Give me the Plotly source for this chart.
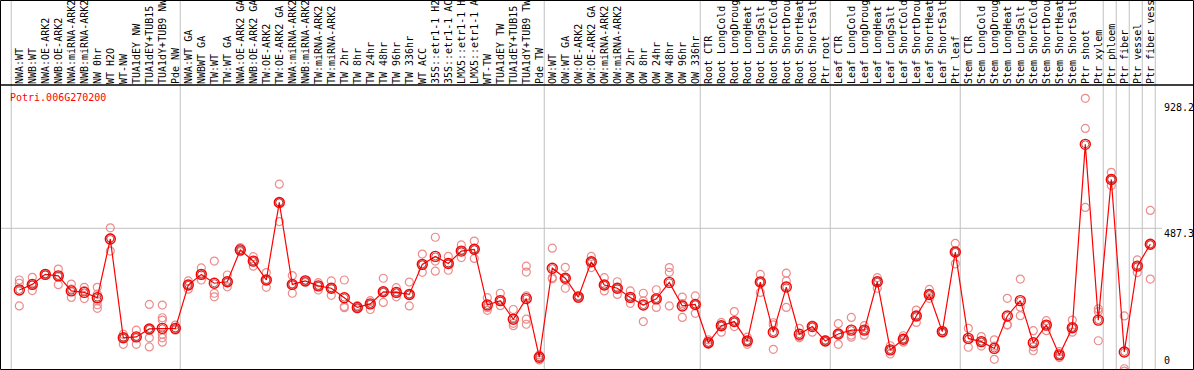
import plotly.graph_objects as go

categories = [
    "NWA:WT", "NWB:WT", "NWA:OE-ARK2", "NWB:OE-ARK2", "NWA:miRNA-ARK2", "NWB:miRNA-ARK2",
    "NW 0hr", "WT H2O", "WT-NW", "TUA1dEY NW", "TUA1dEY+TUB15 NW", "TUA1dY+TUB9 NW", "Pde NW",
    "NWA:WT GA", "NWBWT GA", "TW:WT", "TW:WT GA", "NWA:OE-ARK2 GA", "NWB:OE-ARK2 GA",
    "TW:OE-ARK2", "TW:OE-ARK2 GA", "NWA:miRNA-ARK2 GA", "NWB:miRNA-ARK2 GA", "TW:miRNA-ARK2",
    "TW:miRNA-ARK2 GA", "TW 2hr", "TW 8hr", "TW 24hr", "TW 48hr", "TW 96hr", "TW 336hr",
    "WT ACC", "35S::etr1-1 H2O", "35S::etr1-1 ACC", "LMX5::etr1-1 H2O", "LMX5::etr1-1 ACC",
    "WT-TW", "TUA1dEY TW", "TUA1dEY+TUB15 TW", "TUA1dY+TUB9 TW", "Pde TW",
    "OW:WT", "OW:WT GA", "OW:OE-ARK2", "OW:OE-ARK2 GA", "OW:miRNA-ARK2", "OW:miRNA-ARK2 GA",
    "OW 2hr", "OW 8hr", "OW 24hr", "OW 48hr", "OW 96hr", "OW 336hr",
    "Root CTR", "Root LongCold", "Root LongDrought", "Root LongHeat", "Root LongSalt",
    "Root ShortCold", "Root ShortDrought", "Root ShortHeat", "Root ShortSalt", "Ptr root",
    "Leaf CTR", "Leaf LongCold", "Leaf LongDrought", "Leaf LongHeat", "Leaf LongSalt",
    "Leaf ShortCold", "Leaf ShortDrought", "Leaf ShortHeat", "Leaf ShortSalt", "Ptr leaf",
    "Stem CTR", "Stem LongCold", "Stem LongDrought", "Stem LongHeat", "Stem LongSalt",
    "Stem ShortCold", "Stem ShortDrought", "Stem ShortHeat", "Stem ShortSalt", "Ptr shoot",
    "Ptr xylem", "Ptr phloem", "Ptr fiber", "Ptr vessel", "Ptr fiber vessel",
]

means = [
    278, 297, 331, 326, 275, 270, 252, 451, 116, 119, 146, 148, 148,
    295, 331, 301, 306, 414, 376, 312, 575, 297, 309, 292, 284, 252, 219, 231, 272, 270, 263,
    365, 392, 368, 410, 416, 227, 242, 179, 249, 50,
    352, 318, 254, 374, 295, 284, 253, 227, 248, 304, 224, 229,
    99, 157, 171, 105, 305, 135, 288, 128, 154, 105,
    129, 142, 142, 306, 75, 111, 190, 263, 137, 407,
    114, 103, 80, 190, 242, 99, 159, 58, 150, 772,
    176, 653, 68, 359, 433,
]

replicates = [
    [312, 301, 224], [321, 297, 276], [333, 331, 329], [349, 326, 296], [298, 281, 253],
    [287, 276, 249], [287, 264, 241, 228, 216], [489, 455, 410], [128, 116, 94], [142, 119, 94],
    [229, 146, 116, 85], [227, 184, 176, 128, 116, 101], [159, 148, 142],
    [309, 295, 281], [353, 331, 312], [376, 267, 255], [329, 306, 289], [422, 414, 408],
    [391, 376, 359], [337, 312, 287], [637, 575, 510], [327, 297, 267], [312, 309, 304],
    [303, 292, 278], [309, 284, 260], [312, 222, 218], [225, 219, 214], [242, 231, 212],
    [318, 272, 236], [286, 270, 255], [305, 263, 224],
    [400, 365, 338], [457, 376, 342], [392, 368, 345], [431, 410, 388], [444, 416, 385],
    [252, 218, 209], [267, 242, 225], [212, 165, 157], [359, 339, 258, 179, 162], [58, 50, 41],
    [420, 320, 316], [355, 318, 284], [259, 254, 250], [392, 374, 354], [320, 295, 275],
    [306, 284, 263], [275, 253, 233], [267, 241, 171], [279, 248, 219], [354, 338, 224],
    [254, 232, 185], [258, 229, 199],
    [109, 99, 94], [168, 157, 135], [205, 171, 154], [118, 105, 94], [331, 305, 270],
    [167, 160, 77], [335, 309, 219], [148, 120, 116], [159, 154, 135], [109, 105, 103],
    [164, 129, 94], [185, 125, 118], [157, 142, 125], [320, 306, 284], [89, 75, 61],
    [123, 111, 101], [210, 190, 168], [280, 263, 250], [140, 137, 132], [436, 407, 367],
    [148, 110, 84], [120, 103, 88], [109, 88, 43], [250, 161, 159], [315, 220, 191],
    [140, 85, 72], [174, 159, 140], [69, 58, 49], [176, 150, 135], [928, 826, 558],
    [214, 205, 106], [677, 653, 632], [190, 11, 3], [380, 359, 337], [548, 433, 315],
]

gene_id = "Potri.006G270200"
ytick_vals = [928.2, 487.3, 0]
ytick_text = ["928.2", "487.3", "0"]
group_starts = [0, 13, 41, 53, 63, 73, 84, 85, 86, 87, 88]

W, H = 1194, 370
M_L, M_R, M_T, M_B = 1, 1, 85, 1
plot_h = H - M_T - M_B
X_RANGE = [-1.408, 90.285]
Y_RANGE = [10.2, 973.2]
MONO = "DejaVu Sans Mono"
GRID = "#c0c0c0"

x_idx = list(range(len(categories)))
rep_x = [i for i, r in enumerate(replicates) for _ in r]
rep_y = [v for r in replicates for v in r]

fig = go.Figure()
fig.add_trace(go.Scatter(
    x=rep_x, y=rep_y, mode="markers", hoverinfo="skip",
    marker=dict(symbol="circle-open", size=8, color="rgb(236,140,140)", line=dict(width=1.2)),
))
fig.add_trace(go.Scatter(
    x=x_idx, y=means, mode="lines", line=dict(color="red", width=1.2),
))
fig.add_trace(go.Scatter(
    x=x_idx, y=means, mode="markers",
    marker=dict(symbol="circle-open", size=10, color="red", line=dict(width=1.4)),
))
fig.add_trace(go.Scatter(
    x=x_idx, y=means, mode="markers",
    marker=dict(symbol="circle-open", size=7, color="rgba(110,0,0,0.85)", line=dict(width=0.7)),
))

shapes = []
top_paper = (H - M_B - 0.5) / plot_h
for g in group_starts:
    shapes.append(dict(type="line", xref="x", yref="paper", x0=g - 0.62, x1=g - 0.62,
                       y0=0, y1=top_paper, line=dict(color=GRID, width=1), layer="below"))
shapes.append(dict(type="line", xref="x", yref="y", x0=X_RANGE[0], x1=87.9,
                   y0=ytick_vals[1], y1=ytick_vals[1], line=dict(color=GRID, width=1), layer="below"))
# frame around the whole image and separator under the labels
shapes.append(dict(type="rect", xref="paper", yref="paper",
                   x0=(0.5 - M_L) / (W - M_L - M_R), x1=(W - 0.5 - M_L) / (W - M_L - M_R),
                   y0=-0.5 / plot_h, y1=top_paper, line=dict(color="black", width=1)))
shapes.append(dict(type="line", xref="paper", yref="paper", x0=0, x1=1, y0=1, y1=1,
                   line=dict(color="black", width=1.5)))

annotations = [
    dict(text=gene_id, xref="paper", yref="paper", x=7 / (W - M_L - M_R), y=(H - M_B - 97.3) / plot_h,
         xanchor="left", yanchor="middle", showarrow=False, font=dict(family=MONO, size=10, color="red")),
    dict(text=ytick_text[0], xref="x", yref="y", x=87.93, y=ytick_vals[0], xanchor="left",
         yanchor="top", yshift=-2, showarrow=False, font=dict(family=MONO, size=10, color="black")),
    dict(text=ytick_text[1], xref="x", yref="y", x=87.93, y=ytick_vals[1], xanchor="left",
         yanchor="top", yshift=2, showarrow=False, font=dict(family=MONO, size=10, color="black")),
    dict(text=ytick_text[2], xref="x", yref="paper", x=87.93, y=0, xanchor="left",
         yanchor="bottom", yshift=1, showarrow=False, font=dict(family=MONO, size=10, color="black")),
]

fig.update_layout(
    width=W, height=H, margin=dict(l=M_L, r=M_R, t=M_T, b=M_B, pad=0),
    paper_bgcolor="white", plot_bgcolor="white", showlegend=False,
    shapes=shapes, annotations=annotations,
    xaxis=dict(range=X_RANGE, side="top", tickmode="array", tickvals=x_idx, ticktext=categories,
               tickangle=-90, ticks="", showgrid=False, zeroline=False, showline=False,
               automargin=False, tickfont=dict(family=MONO, size=10, color="black")),
    yaxis=dict(range=Y_RANGE, showticklabels=False, ticks="", showgrid=False, zeroline=False,
               showline=False, automargin=False),
)

fig.write_html("out.html", config={"displayModeBar": False},
               post_script="document.body.style.margin='0';")
